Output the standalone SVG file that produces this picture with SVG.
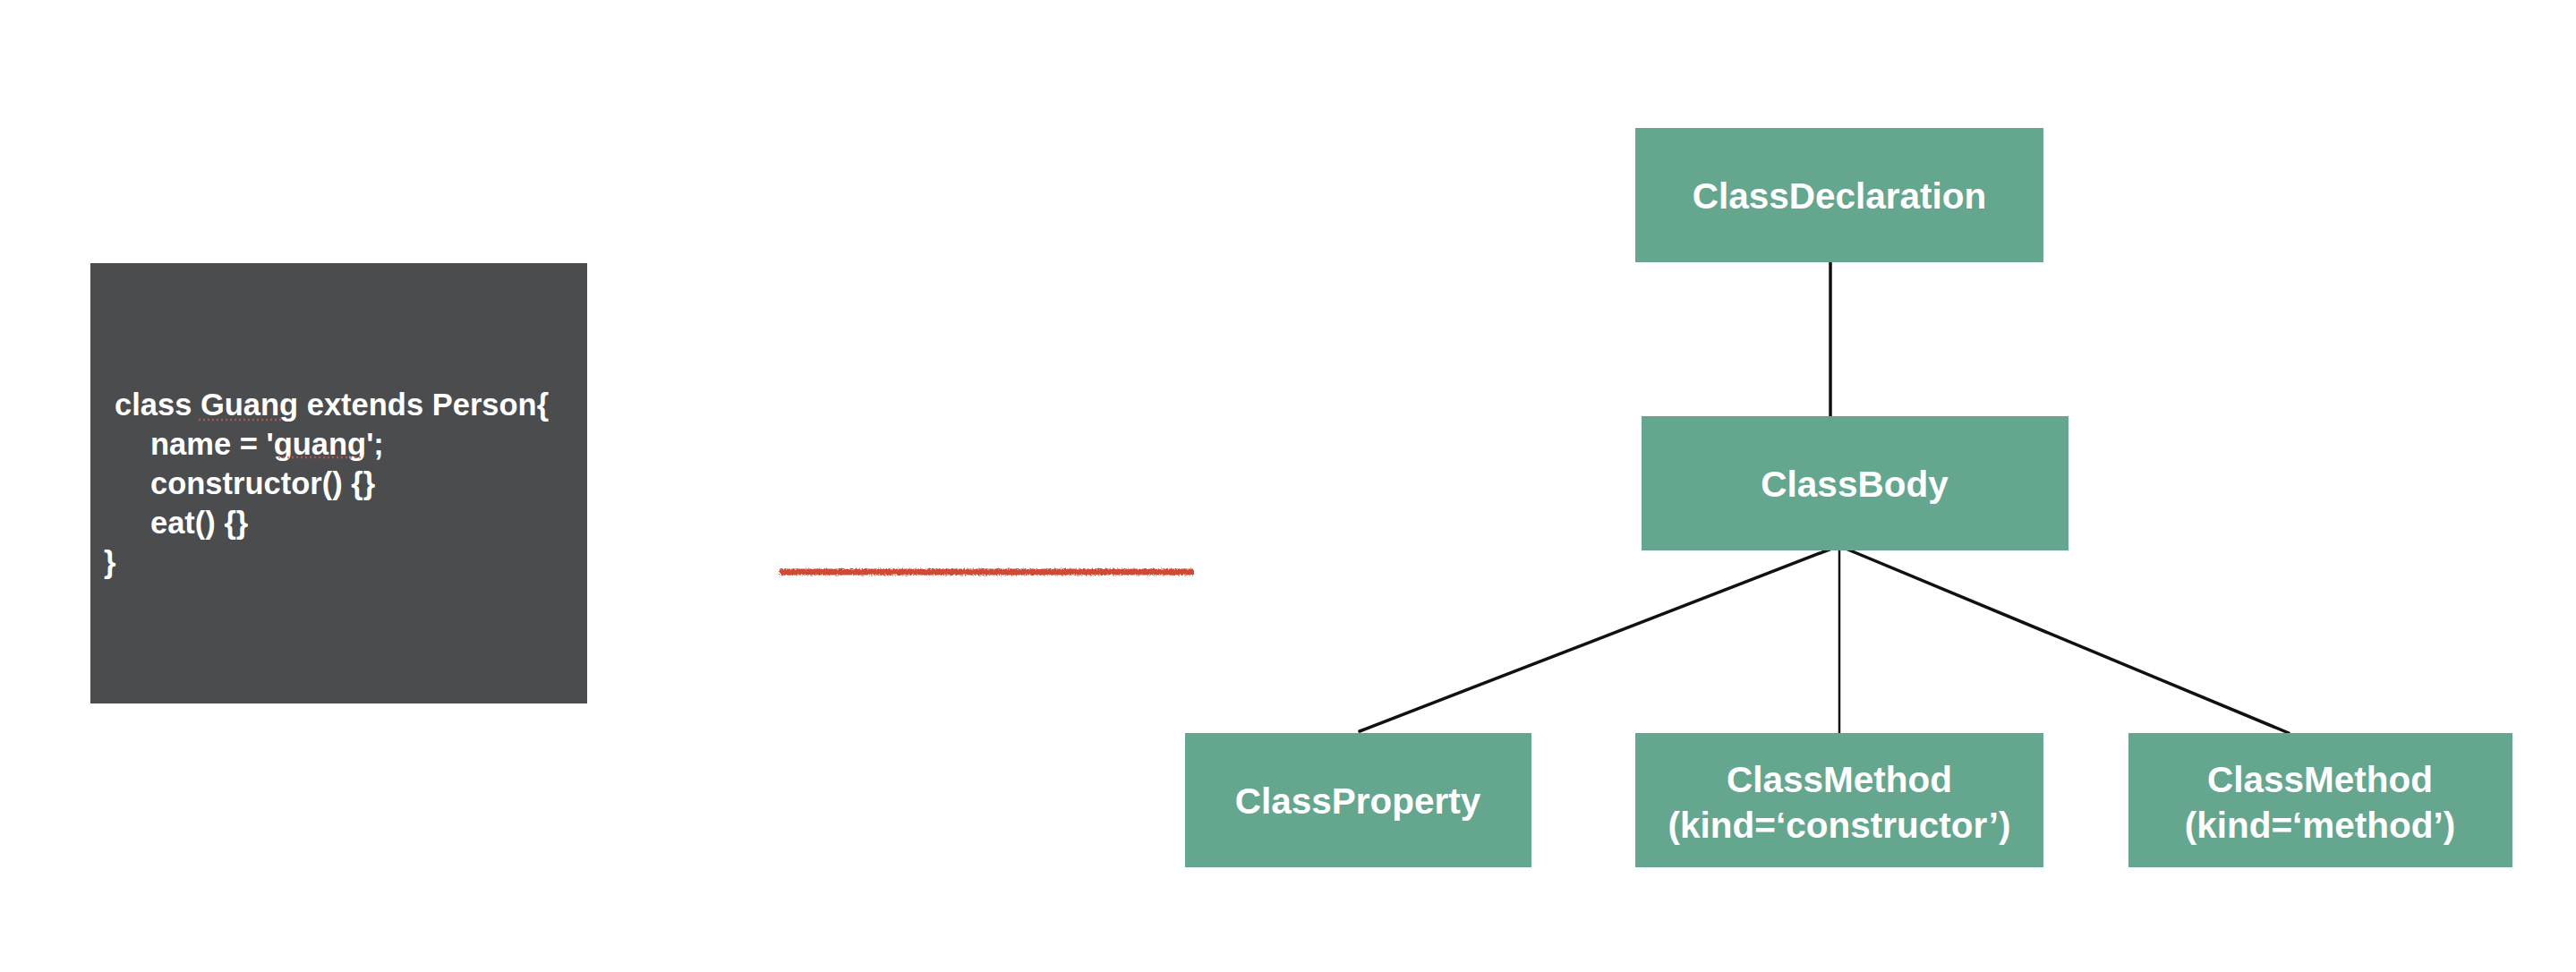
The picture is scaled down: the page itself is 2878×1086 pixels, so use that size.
<svg xmlns="http://www.w3.org/2000/svg" width="2878" height="1086" viewBox="0 0 2878 1086">
  <style>
    .node rect { fill: #65a68f; }
    .node text { fill: #ffffff; font-family: "Liberation Sans", Arial, sans-serif; font-weight: bold; font-size: 40.5px; text-anchor: middle; }
    .code { fill: #ffffff; font-family: "Liberation Sans", Arial, sans-serif; font-weight: bold; font-size: 34.5px; }
    .edge { stroke: #111111; stroke-width: 3.5; fill: none; stroke-linecap: round; }
    .spell { stroke: #d9534f; stroke-width: 2.5; stroke-dasharray: 2 3; opacity: 0.75; }
  </style>
  <defs>
    <filter id="rough" filterUnits="userSpaceOnUse" x="850" y="620" width="510" height="40">
      <feTurbulence type="fractalNoise" baseFrequency="0.6" numOctaves="2" seed="3" result="n"/>
      <feDisplacementMap in="SourceGraphic" in2="n" scale="4" xChannelSelector="R" yChannelSelector="G"/>
    </filter>
  </defs>
  <rect width="2878" height="1086" fill="#ffffff"/>

  <g id="code-block">
    <rect x="101" y="294" width="555" height="492" fill="#4b4c4e"/>
    <text class="code" x="128" y="464">class Guang extends Person{</text>
    <text class="code" x="168" y="508">name = 'guang';</text>
    <text class="code" x="168" y="552">constructor() {}</text>
    <text class="code" x="168" y="596">eat() {}</text>
    <text class="code" x="116" y="640">}</text>
    <line class="spell" x1="222" y1="469" x2="316" y2="469"/>
    <line class="spell" x1="311" y1="511" x2="404" y2="511"/>
  </g>

  <g id="red-line">
    <rect x="871" y="635.5" width="463" height="7" fill="#cf4a36" filter="url(#rough)"/>
  </g>

  <g id="connectors">
    <line class="edge" x1="2045" y1="293" x2="2045" y2="465"/>
    <line class="edge" x1="2054" y1="610" x2="1519" y2="817"/>
    <line class="edge" x1="2055" y1="610" x2="2055" y2="820" style="stroke-width:2.5"/>
    <line class="edge" x1="2055" y1="610" x2="2557" y2="819"/>
  </g>

  <g id="ClassDeclaration" class="node">
    <rect x="1827" y="143" width="456" height="150"/>
    <text x="2055" y="233">ClassDeclaration</text>
  </g>
  <g id="ClassBody" class="node">
    <rect x="1834" y="465" width="477" height="150"/>
    <text x="2072" y="555">ClassBody</text>
  </g>
  <g id="ClassProperty" class="node">
    <rect x="1324" y="819" width="387" height="150"/>
    <text x="1517" y="909">ClassProperty</text>
  </g>
  <g id="ClassMethodConstructor" class="node">
    <rect x="1827" y="819" width="456" height="150"/>
    <text x="2055" y="885">ClassMethod</text>
    <text x="2055" y="936">(kind=‘constructor’)</text>
  </g>
  <g id="ClassMethodMethod" class="node">
    <rect x="2378" y="819" width="429" height="150"/>
    <text x="2592" y="885">ClassMethod</text>
    <text x="2592" y="936">(kind=‘method’)</text>
  </g>
</svg>
